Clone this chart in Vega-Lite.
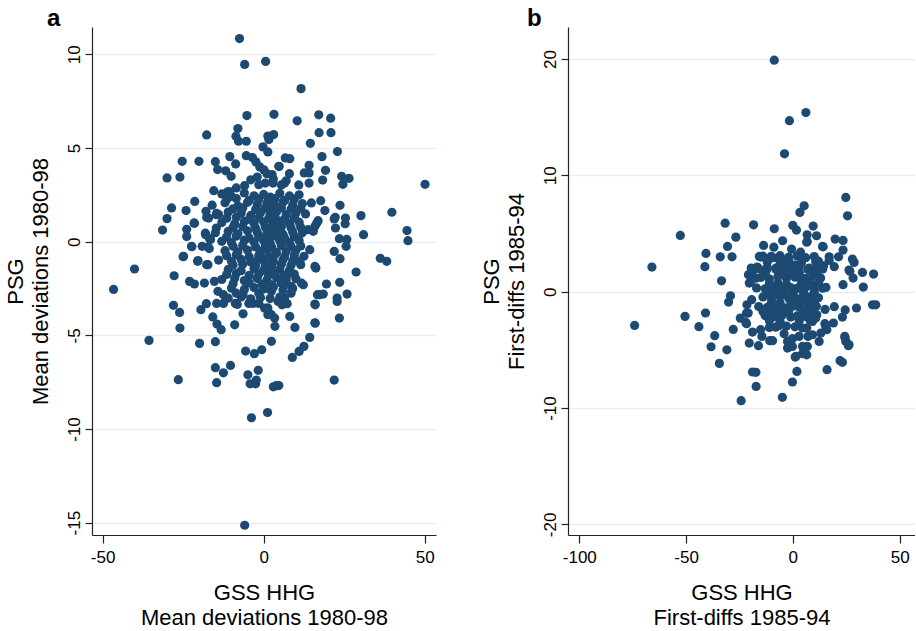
{
  "$schema": "https://vega.github.io/schema/vega-lite/v6.json",
  "background": "white",
  "padding": {"left": 3, "top": 7, "right": 0, "bottom": 0},
  "config": {
    "font": "Liberation Sans",
    "view": {"stroke": null},
    "axis": {
      "domainColor": "#222222", "tickColor": "#222222", "domainWidth": 1.2, "tickWidth": 1.2, "tickSize": 8,
      "labelColor": "#000000", "titleColor": "#000000", "labelFontSize": 17, "titleFontSize": 22,
      "titleFontWeight": "normal", "labelFont": "Liberation Sans", "titleFont": "Liberation Sans",
      "titleLineHeight": 25, "gridColor": "#e8eff2", "gridWidth": 1.5, "labelFlush": false, "labelOverlap": false,
      "labelExpr": "datum.value + ''"
    }
  },
  "datasets": {
    "a": [
      {"gss":-7.5,"psg":10.84},{"gss":-5.9,"psg":9.46},{"gss":0.6,"psg":9.62},{"gss":11.6,"psg":8.17},{"gss":-5.2,"psg":6.73},{"gss":3.2,"psg":6.8},{"gss":10.4,"psg":6.45},{"gss":17.1,"psg":6.77},{"gss":20.8,"psg":6.59},{"gss":-17.7,"psg":5.7},
      {"gss":-8,"psg":6.04},{"gss":-8.6,"psg":5.63},{"gss":-7.8,"psg":5.36},{"gss":-5.4,"psg":5.36},{"gss":1.3,"psg":5.64},{"gss":3.1,"psg":5.72},{"gss":-0.2,"psg":5.06},{"gss":1.3,"psg":4.79},{"gss":17.2,"psg":5.82},{"gss":20.9,"psg":5.82},
      {"gss":14.5,"psg":5.25},{"gss":22.9,"psg":4.81},{"gss":-25.3,"psg":4.29},{"gss":-20.1,"psg":4.29},{"gss":-30,"psg":3.4},{"gss":-26,"psg":3.45},{"gss":-15,"psg":4.27},{"gss":-10.5,"psg":4.54},{"gss":-8.7,"psg":4.15},{"gss":-14.3,"psg":3.85},
      {"gss":-11.8,"psg":3.78},{"gss":-10.1,"psg":3.49},{"gss":-5.4,"psg":4.59},{"gss":-3.5,"psg":4.49},{"gss":-2.4,"psg":4.26},{"gss":-1.2,"psg":3.99},{"gss":0.1,"psg":3.83},{"gss":4.8,"psg":4.01},{"gss":6.7,"psg":4.47},{"gss":8.1,"psg":4.43},
      {"gss":18.1,"psg":4.54},{"gss":14.1,"psg":4.08},{"gss":14.1,"psg":3.67},{"gss":8,"psg":3.63},{"gss":2.6,"psg":3.58},{"gss":1,"psg":3.63},{"gss":12.6,"psg":3.67},{"gss":19.2,"psg":3.81},{"gss":18.3,"psg":3.29},{"gss":24.2,"psg":3.49},
      {"gss":26.5,"psg":3.38},{"gss":24.6,"psg":3.06},{"gss":50.1,"psg":3.06},{"gss":14.1,"psg":3.13},{"gss":10.9,"psg":3.03},{"gss":2.9,"psg":3.13},{"gss":5.5,"psg":3.03},{"gss":6.5,"psg":3.13},{"gss":-1.5,"psg":3.04},{"gss":0.5,"psg":3.13},
      {"gss":-5.9,"psg":2.99},{"gss":-8.5,"psg":2.87},{"gss":-10.6,"psg":2.67},{"gss":-11.3,"psg":2.64},{"gss":-15.5,"psg":2.72},{"gss":-21.4,"psg":2.15},{"gss":-28.6,"psg":1.8},{"gss":-30,"psg":1.23},{"gss":-31.4,"psg":0.62},{"gss":-24.1,"psg":1.66},
      {"gss":-21.5,"psg":0.98},{"gss":-17.9,"psg":1.62},{"gss":-17.1,"psg":1.26},{"gss":-14.6,"psg":1.51},{"gss":-23.9,"psg":0.66},{"gss":-23.9,"psg":0.27},{"gss":-18.1,"psg":0.45},{"gss":-16.5,"psg":0.11},{"gss":-19.1,"psg":-0.25},{"gss":-16.9,"psg":-0.37},
      {"gss":-22.3,"psg":-0.27},{"gss":-25,"psg":-0.8},{"gss":-20.4,"psg":-1.01},{"gss":-17.7,"psg":-1.23},{"gss":-27.8,"psg":-1.82},{"gss":-40.1,"psg":-1.46},{"gss":-46.6,"psg":-2.55},{"gss":14.8,"psg":2.07},{"gss":17.7,"psg":2.19},{"gss":19,"psg":1.66},
      {"gss":23.7,"psg":1.94},{"gss":22.2,"psg":1.3},{"gss":25.4,"psg":1.26},{"gss":25.3,"psg":0.96},{"gss":30.2,"psg":1.39},{"gss":31,"psg":0.37},{"gss":39.8,"psg":1.57},{"gss":44.5,"psg":0.59},{"gss":44.8,"psg":0.05},{"gss":22.3,"psg":0.73},
      {"gss":23.5,"psg":0.16},{"gss":25.8,"psg":0.12},{"gss":25.6,"psg":-0.25},{"gss":21.9,"psg":-0.52},{"gss":23.7,"psg":-0.91},{"gss":28.7,"psg":-1.62},{"gss":36.2,"psg":-0.89},{"gss":38.2,"psg":-1.05},{"gss":16.5,"psg":1.0},{"gss":15.4,"psg":0.55},
      {"gss":14.3,"psg":-0.43},{"gss":12.5,"psg":-0.78},{"gss":16.2,"psg":-1.41},{"gss":19.5,"psg":-2.26},{"gss":23.6,"psg":-2.17},{"gss":17.4,"psg":-2.83},{"gss":18.5,"psg":-2.8},{"gss":22.8,"psg":-3.01},{"gss":25.9,"psg":-2.8},{"gss":12.3,"psg":-2.3},
      {"gss":-11.2,"psg":2.65},{"gss":-17.7,"psg":1.3},{"gss":-14.7,"psg":1.44},{"gss":-21.6,"psg":1.0},{"gss":-22.4,"psg":-0.25},{"gss":-18,"psg":0.37},{"gss":-16.8,"psg":0.16},{"gss":-14.7,"psg":0.73},{"gss":-17.3,"psg":-0.29},{"gss":-24.9,"psg":-0.78},
      {"gss":-20.5,"psg":-1.05},{"gss":-17.3,"psg":-1.23},{"gss":1.6,"psg":5.45},{"gss":4.7,"psg":4.02},{"gss":21.9,"psg":1.21},{"gss":16.9,"psg":1.12},{"gss":15.9,"psg":0.82},{"gss":13.8,"psg":0.64},{"gss":15.9,"psg":-1.32},{"gss":11.2,"psg":-1.05},
      {"gss":8.1,"psg":-1.68},{"gss":6,"psg":-1.94},
      {"gss":-28,"psg":-3.4},{"gss":-26.1,"psg":-3.78},{"gss":-26,"psg":-4.61},{"gss":-35.6,"psg":-5.27},{"gss":-19.5,"psg":-3.63},{"gss":-17.8,"psg":-3.31},{"gss":-14.6,"psg":-3.3},{"gss":-12.5,"psg":-3.3},{"gss":-8.8,"psg":-3.3},{"gss":-8.2,"psg":-3.35},
      {"gss":-4.6,"psg":-3.3},{"gss":-3.3,"psg":-3.3},{"gss":-1.5,"psg":-3.3},{"gss":-15.8,"psg":-4.02},{"gss":-14.5,"psg":-4.4},{"gss":-13.2,"psg":-4.7},{"gss":-9,"psg":-4.44},{"gss":-6.4,"psg":-3.85},{"gss":-19.9,"psg":-5.43},{"gss":-15,"psg":-5.34},
      {"gss":-5.6,"psg":-5.84},{"gss":-2.9,"psg":-5.98},{"gss":-0.6,"psg":-5.77},{"gss":-15,"psg":-6.73},{"gss":-12.5,"psg":-7.0},{"gss":-10.3,"psg":-6.61},{"gss":-26.5,"psg":-7.37},{"gss":-14.6,"psg":-7.53},{"gss":-4.9,"psg":-7.11},{"gss":-4.2,"psg":-7.59},
      {"gss":-2.3,"psg":-7.39},{"gss":-2.5,"psg":-7.59},{"gss":-1.7,"psg":-6.87},{"gss":3,"psg":-7.75},{"gss":4.7,"psg":-7.68},{"gss":-3.8,"psg":-9.4},{"gss":1.2,"psg":-9.12},{"gss":-5.9,"psg":-15.14},{"gss":1.3,"psg":-3.54},{"gss":1.3,"psg":-3.9},
      {"gss":3.4,"psg":-4.08},{"gss":3.5,"psg":-4.52},{"gss":5.7,"psg":-3.37},{"gss":7.3,"psg":-3.31},{"gss":8.1,"psg":-3.99},{"gss":9.7,"psg":-4.58},{"gss":16,"psg":-3.37},{"gss":16,"psg":-4.35},{"gss":23.5,"psg":-4.08},{"gss":22.8,"psg":-3.19},
      {"gss":2.4,"psg":-5.32},{"gss":14.3,"psg":-5.11},{"gss":12.5,"psg":-5.59},{"gss":11,"psg":-5.86},{"gss":8.9,"psg":-6.18},{"gss":21.9,"psg":-7.39},{"gss":-23,"psg":-2.12},{"gss":-21.5,"psg":-2.26},{"gss":-18.4,"psg":-2.21},{"gss":-15.3,"psg":-2.12},
      {"gss":-14.2,"psg":-2.65},{"gss":-12.5,"psg":-2.83},{"gss":-6.4,"psg":-2.83},{"gss":16.7,"psg":-2.83},{"gss":15.9,"psg":-3.33},{"gss":15.9,"psg":-4.33},{"gss":3.9,"psg":-7.69},{"gss":0.3,"psg":-2.3},{"gss":2.4,"psg":-2.65},{"gss":4.5,"psg":-3.19},
      {"gss":6.5,"psg":-3.01},{"gss":8.6,"psg":-2.39},{"gss":11.7,"psg":-2.21},{"gss":0.3,"psg":-3.55},{"gss":2.4,"psg":-3.9},{"gss":6.5,"psg":-2.21},
      {"gss":-13,"psg":2.55},{"gss":-10,"psg":2.42},{"gss":-6,"psg":2.6},{"gss":-3,"psg":2.45},{"gss":0,"psg":2.52},{"gss":2,"psg":2.38},{"gss":5,"psg":2.58},{"gss":8,"psg":2.44},{"gss":11,"psg":2.5},
      {"gss":-16,"psg":1.95},{"gss":-12,"psg":2.08},{"gss":-8,"psg":1.9},{"gss":-5,"psg":2.1},{"gss":-2,"psg":1.98},{"gss":1,"psg":2.05},{"gss":3.5,"psg":1.92},{"gss":6,"psg":2.12},{"gss":9,"psg":1.96},{"gss":12,"psg":2.03},
      {"gss":-14,"psg":1.45},{"gss":-11,"psg":1.58},{"gss":-7,"psg":1.52},{"gss":-4,"psg":1.4},{"gss":-1,"psg":1.55},{"gss":2,"psg":1.47},{"gss":4,"psg":1.6},{"gss":7,"psg":1.44},{"gss":10,"psg":1.53},{"gss":13,"psg":1.48},
      {"gss":-13,"psg":1.02},{"gss":-9,"psg":0.95},{"gss":-6,"psg":1.08},{"gss":-3,"psg":0.97},{"gss":0,"psg":1.05},{"gss":3,"psg":0.92},{"gss":5,"psg":1.1},{"gss":8,"psg":0.98},{"gss":11,"psg":1.04},
      {"gss":-15,"psg":0.48},{"gss":-11,"psg":0.55},{"gss":-8,"psg":0.42},{"gss":-5,"psg":0.58},{"gss":-2,"psg":0.5},{"gss":1,"psg":0.45},{"gss":4,"psg":0.56},{"gss":6,"psg":0.4},{"gss":9,"psg":0.52},{"gss":12,"psg":0.47},
      {"gss":-13,"psg":0.02},{"gss":-10,"psg":-0.05},{"gss":-6,"psg":0.08},{"gss":-3,"psg":-0.02},{"gss":0,"psg":0.05},{"gss":2,"psg":-0.08},{"gss":5,"psg":0.03},{"gss":8,"psg":-0.04},{"gss":11,"psg":0.06},
      {"gss":-12,"psg":-0.48},{"gss":-8,"psg":-0.55},{"gss":-5,"psg":-0.45},{"gss":-1,"psg":-0.52},{"gss":1,"psg":-0.42},{"gss":4,"psg":-0.58},{"gss":7,"psg":-0.5},{"gss":10,"psg":-0.46},
      {"gss":-14,"psg":-0.98},{"gss":-10,"psg":-1.05},{"gss":-7,"psg":-0.95},{"gss":-4,"psg":-1.08},{"gss":-2,"psg":-1.0},{"gss":0,"psg":-0.93},{"gss":3,"psg":-1.06},{"gss":6,"psg":-0.97},{"gss":9,"psg":-1.03},
      {"gss":-11,"psg":-1.48},{"gss":-7,"psg":-1.55},{"gss":-3,"psg":-1.45},{"gss":0,"psg":-1.52},{"gss":2,"psg":-1.58},{"gss":5,"psg":-1.47},{"gss":8,"psg":-1.53},
      {"gss":-13,"psg":-2.02},{"gss":-9,"psg":-1.95},{"gss":-6,"psg":-2.08},{"gss":-2,"psg":-1.97},{"gss":1,"psg":-2.05},{"gss":4,"psg":-1.93},{"gss":7,"psg":-2.04},{"gss":10,"psg":-1.98},
      {"gss":-10,"psg":-2.48},{"gss":-6,"psg":-2.55},{"gss":-3,"psg":-2.45},{"gss":0,"psg":-2.52},{"gss":3,"psg":-2.42},{"gss":6,"psg":-2.58},{"gss":9,"psg":-2.5},
      {"gss":-11,"psg":-3.02},{"gss":-7,"psg":-2.95},{"gss":-4,"psg":-3.05},{"gss":-1,"psg":-2.98},{"gss":2,"psg":-3.04},{"gss":5,"psg":-2.96},
      {"gss":-4,"psg":3.3},{"gss":-2,"psg":3.45},{"gss":3,"psg":3.35},{"gss":7,"psg":3.25},
      {"gss":-11.5,"psg":2.25},{"gss":-8.5,"psg":2.3},{"gss":-4.5,"psg":2.2},{"gss":-1.5,"psg":2.28},{"gss":1.5,"psg":2.22},{"gss":3.5,"psg":2.3},{"gss":6.5,"psg":2.2},{"gss":9.5,"psg":2.27},
      {"gss":-9.5,"psg":1.75},{"gss":-6.5,"psg":1.8},{"gss":-2.5,"psg":1.72},{"gss":0.5,"psg":1.78},{"gss":2.5,"psg":1.7},{"gss":5.5,"psg":1.8},{"gss":8.5,"psg":1.74},{"gss":11.5,"psg":1.77},
      {"gss":-11.5,"psg":1.25},{"gss":-8.5,"psg":1.3},{"gss":-4.5,"psg":1.2},{"gss":-1.5,"psg":1.28},{"gss":1.5,"psg":1.22},{"gss":3.5,"psg":1.3},{"gss":6.5,"psg":1.2},{"gss":9.5,"psg":1.27},
      {"gss":-9.5,"psg":0.75},{"gss":-6.5,"psg":0.8},{"gss":-2.5,"psg":0.72},{"gss":0.5,"psg":0.78},{"gss":2.5,"psg":0.7},{"gss":5.5,"psg":0.8},{"gss":8.5,"psg":0.74},{"gss":11.5,"psg":0.77},
      {"gss":-11.5,"psg":0.25},{"gss":-8.5,"psg":0.3},{"gss":-4.5,"psg":0.2},{"gss":-1.5,"psg":0.28},{"gss":1.5,"psg":0.22},{"gss":3.5,"psg":0.3},{"gss":6.5,"psg":0.2},{"gss":9.5,"psg":0.27},
      {"gss":-9.5,"psg":-0.25},{"gss":-6.5,"psg":-0.2},{"gss":-2.5,"psg":-0.28},{"gss":0.5,"psg":-0.22},{"gss":2.5,"psg":-0.3},{"gss":5.5,"psg":-0.2},{"gss":8.5,"psg":-0.26},{"gss":11.5,"psg":-0.23},
      {"gss":-11.5,"psg":-0.75},{"gss":-8.5,"psg":-0.7},{"gss":-4.5,"psg":-0.8},{"gss":-1.5,"psg":-0.72},{"gss":1.5,"psg":-0.78},{"gss":3.5,"psg":-0.7},{"gss":6.5,"psg":-0.8},{"gss":9.5,"psg":-0.73},
      {"gss":-9.5,"psg":-1.25},{"gss":-6.5,"psg":-1.2},{"gss":-2.5,"psg":-1.28},{"gss":0.5,"psg":-1.22},{"gss":2.5,"psg":-1.3},{"gss":5.5,"psg":-1.2},{"gss":8.5,"psg":-1.26},{"gss":11.5,"psg":-1.23},
      {"gss":-11.5,"psg":-1.75},{"gss":-8.5,"psg":-1.7},{"gss":-4.5,"psg":-1.8},{"gss":-1.5,"psg":-1.72},{"gss":1.5,"psg":-1.78},{"gss":3.5,"psg":-1.7},{"gss":6.5,"psg":-1.8},{"gss":9.5,"psg":-1.73},
      {"gss":-9.5,"psg":-2.25},{"gss":-4.5,"psg":-2.2},{"gss":-0.5,"psg":-2.28},{"gss":2.5,"psg":-2.3},{"gss":5.5,"psg":-2.22},{"gss":8.5,"psg":-2.75},{"gss":-8.5,"psg":-2.75},{"gss":-1.5,"psg":-2.75}
    ],
    "b": [
      {"gss":-8.7,"psg":19.9},{"gss":-1.6,"psg":14.7},{"gss":6.1,"psg":15.4},{"gss":-3.9,"psg":11.85},{"gss":24.8,"psg":8.1},{"gss":25.6,"psg":6.52},{"gss":5.3,"psg":7.38},{"gss":3.3,"psg":6.81},{"gss":-31.7,"psg":5.89},{"gss":-18.4,"psg":5.75},
      {"gss":-8.7,"psg":5.41},{"gss":0,"psg":5.7},{"gss":1.7,"psg":5.3},{"gss":9.5,"psg":5.64},{"gss":-52.7,"psg":4.84},{"gss":-26.7,"psg":4.69},{"gss":-66,"psg":2.12},{"gss":-40.7,"psg":3.29},{"gss":-41.2,"psg":2.15},{"gss":-34,"psg":3.0},
      {"gss":-28.5,"psg":3.0},{"gss":-30.6,"psg":3.89},{"gss":-33.4,"psg":0.94},{"gss":-13.7,"psg":3.98},{"gss":-8.9,"psg":3.83},{"gss":-4.8,"psg":4.38},{"gss":-0.6,"psg":3.66},{"gss":3.6,"psg":3.4},{"gss":6.7,"psg":4.89},{"gss":11.1,"psg":4.81},
      {"gss":6.7,"psg":4.32},{"gss":14.2,"psg":3.86},{"gss":19.8,"psg":4.52},{"gss":23.5,"psg":4.41},{"gss":23.5,"psg":3.58},{"gss":17,"psg":3.0},{"gss":21.4,"psg":3.0},{"gss":-15,"psg":2.98},{"gss":-10.1,"psg":3.04},{"gss":-7.2,"psg":2.89},
      {"gss":27.9,"psg":2.8},{"gss":28.7,"psg":2.52},{"gss":26.3,"psg":1.86},{"gss":28.2,"psg":1.17},{"gss":32.6,"psg":1.66},{"gss":37.8,"psg":1.52},{"gss":33,"psg":0.4},{"gss":23.5,"psg":0.6},{"gss":19.4,"psg":2.15},{"gss":14.4,"psg":2.23},
      {"gss":17,"psg":2.69},{"gss":37.3,"psg":-1.13},{"gss":38.8,"psg":-1.13},{"gss":29.8,"psg":-1.4},{"gss":24.5,"psg":-1.57},{"gss":19.4,"psg":-1.29},{"gss":15.1,"psg":-1.52},{"gss":-19.5,"psg":2.03},{"gss":-16.7,"psg":2.12},{"gss":-20.8,"psg":1.46},
      {"gss":-20.4,"psg":0.74},{"gss":-12.3,"psg":1.86},{"gss":-7.9,"psg":2.03},{"gss":-6.1,"psg":2.32},{"gss":-2.5,"psg":2.03},{"gss":-0.2,"psg":2.03},{"gss":-1.7,"psg":2.58},{"gss":1.4,"psg":2.29},{"gss":7.6,"psg":2.03},{"gss":10.7,"psg":2.58},
      {"gss":12.3,"psg":2.15},{"gss":8.8,"psg":1.72},{"gss":6.1,"psg":1.14},{"gss":9.3,"psg":0.57},{"gss":15.5,"psg":0.37},{"gss":-29.2,"psg":-0.35},{"gss":-30.1,"psg":-0.89},{"gss":-50.5,"psg":-2.12},{"gss":-40.9,"psg":-1.83},
      {"gss":-74.1,"psg":-2.9},{"gss":-44,"psg":-3.01},{"gss":-36.6,"psg":-3.78},{"gss":-38.3,"psg":-4.73},{"gss":-34.4,"psg":-6.16},{"gss":-30.9,"psg":-4.99},{"gss":-27.9,"psg":-3.24},{"gss":-24.6,"psg":-2.27},{"gss":-21.7,"psg":-1.84},{"gss":-21.7,"psg":-2.75},
      {"gss":-18.9,"psg":-3.47},{"gss":-20.4,"psg":-4.41},{"gss":-16.1,"psg":-4.64},{"gss":-14.5,"psg":-3.84},{"gss":-10.8,"psg":-4.21},{"gss":-9.5,"psg":-4.21},{"gss":-11,"psg":-3.07},{"gss":-6.4,"psg":-2.9},{"gss":-18.9,"psg":-6.9},{"gss":-17.2,"psg":-8.14},
      {"gss":-24.2,"psg":-9.37},{"gss":-4.9,"psg":-9.08},{"gss":-0.2,"psg":-7.76},{"gss":1.9,"psg":-6.85},{"gss":1.1,"psg":-5.62},{"gss":16,"psg":-6.7},{"gss":22.1,"psg":-5.93},{"gss":23.2,"psg":-6.07},{"gss":-2.5,"psg":-4.84},{"gss":-0.2,"psg":-4.7},
      {"gss":2.9,"psg":-3.84},{"gss":4.5,"psg":-4.7},{"gss":6.5,"psg":-5.42},{"gss":7.1,"psg":-3.84},{"gss":9.2,"psg":-3.7},{"gss":12.3,"psg":-4.27},{"gss":-0.2,"psg":-4.04},{"gss":-4.1,"psg":-3.61},{"gss":6.5,"psg":-3.12},{"gss":4.5,"psg":-3.12},
      {"gss":9.2,"psg":-2.55},{"gss":11.2,"psg":-1.98},{"gss":6.9,"psg":-2.12},{"gss":15,"psg":-2.75},{"gss":15.9,"psg":-3.27},{"gss":19,"psg":-2.69},{"gss":24.5,"psg":-3.98},{"gss":24.8,"psg":-4.27},{"gss":26,"psg":-4.64},
      {"gss":-19.3,"psg":-0.69},{"gss":-21.5,"psg":-1.12},{"gss":-22,"psg":-2.64},{"gss":-20.9,"psg":-1.84},{"gss":-18.9,"psg":1.75},{"gss":-19.7,"psg":0.89},{"gss":-17.3,"psg":1.17},{"gss":-15.7,"psg":3.03},
      {"gss":6.5,"psg":4.26},{"gss":13.9,"psg":3.89},{"gss":26.7,"psg":1.75},{"gss":23.2,"psg":-2.18},{"gss":15.4,"psg":-2.98},{"gss":24.3,"psg":-3.84},{"gss":26.3,"psg":-4.55},{"gss":1.4,"psg":-5.56},{"gss":-17.3,"psg":-6.93},{"gss":-15.1,"psg":-3.26},
      {"gss":-2.5,"psg":-4.27},{"gss":10.7,"psg":-2.26},{"gss":13.1,"psg":-3.55},{"gss":6.8,"psg":-4.7},{"gss":4.5,"psg":-5.33},{"gss":-1.4,"psg":-4.7},
      {"gss":-14,"psg":3.05},{"gss":-10,"psg":2.9},{"gss":-6,"psg":3.1},{"gss":-2,"psg":2.95},{"gss":2,"psg":3.08},{"gss":6,"psg":2.92},{"gss":10,"psg":3.02},
      {"gss":-16,"psg":1.98},{"gss":-12,"psg":2.1},{"gss":-8,"psg":1.92},{"gss":-4,"psg":2.05},{"gss":0,"psg":1.95},{"gss":3,"psg":2.12},{"gss":7,"psg":1.9},{"gss":11,"psg":2.02},{"gss":14,"psg":1.96},
      {"gss":-15,"psg":1.22},{"gss":-11,"psg":1.1},{"gss":-7,"psg":1.3},{"gss":-3,"psg":1.15},{"gss":1,"psg":1.25},{"gss":5,"psg":1.12},{"gss":9,"psg":1.28},{"gss":13,"psg":1.18},
      {"gss":-17,"psg":0.32},{"gss":-13,"psg":0.25},{"gss":-9,"psg":0.4},{"gss":-5,"psg":0.22},{"gss":-1,"psg":0.35},{"gss":2,"psg":0.28},{"gss":6,"psg":0.38},{"gss":10,"psg":0.2},{"gss":14,"psg":0.3},
      {"gss":-14,"psg":-0.45},{"gss":-10,"psg":-0.58},{"gss":-6,"psg":-0.42},{"gss":-2,"psg":-0.55},{"gss":1,"psg":-0.48},{"gss":4,"psg":-0.6},{"gss":8,"psg":-0.44},{"gss":12,"psg":-0.52},
      {"gss":-16,"psg":-1.28},{"gss":-12,"psg":-1.35},{"gss":-8,"psg":-1.22},{"gss":-4,"psg":-1.38},{"gss":0,"psg":-1.25},{"gss":3,"psg":-1.32},{"gss":7,"psg":-1.4},{"gss":11,"psg":-1.26},
      {"gss":-13,"psg":-2.05},{"gss":-9,"psg":-2.15},{"gss":-5,"psg":-2.0},{"gss":-1,"psg":-2.18},{"gss":2,"psg":-2.08},{"gss":6,"psg":-2.12},
      {"gss":-8,"psg":-3.05},{"gss":-3,"psg":-2.95},{"gss":1,"psg":-3.02},
      {"gss":-12,"psg":2.55},{"gss":-4,"psg":2.6},{"gss":4,"psg":2.5},{"gss":12,"psg":2.62},
      {"gss":-13,"psg":1.6},{"gss":-5,"psg":1.65},{"gss":-1,"psg":1.55},{"gss":3,"psg":1.62},{"gss":11,"psg":1.58},
      {"gss":-11,"psg":0.7},{"gss":-7,"psg":0.75},{"gss":-3,"psg":0.65},{"gss":4,"psg":0.72},{"gss":8,"psg":0.68},{"gss":12,"psg":0.75},
      {"gss":-12,"psg":-0.1},{"gss":-8,"psg":-0.05},{"gss":-4,"psg":-0.15},{"gss":0,"psg":-0.08},{"gss":5,"psg":-0.12},{"gss":10,"psg":-0.05},
      {"gss":-10,"psg":-0.9},{"gss":-6,"psg":-0.95},{"gss":-1,"psg":-0.88},{"gss":2,"psg":-0.92},{"gss":6,"psg":-0.85},{"gss":10,"psg":-0.95},
      {"gss":-14,"psg":-1.7},{"gss":-10,"psg":-1.75},{"gss":-6,"psg":-1.65},{"gss":-2,"psg":-1.72},{"gss":5,"psg":-1.7},{"gss":9,"psg":-1.68},
      {"gss":-11,"psg":-2.5},{"gss":-6,"psg":-2.55},{"gss":3,"psg":-2.5},{"gss":8,"psg":-2.45}
    ]
  },
  "spacing": 132,
  "bounds": "flush",
  "hconcat": [
    {
      "width": 344,
      "height": 508,
      "title": {"text": "a", "anchor": "start", "frame": "group", "dx": -45, "fontSize": 24, "fontWeight": "bold", "offset": -4, "color": "#000000", "font": "Liberation Sans"},
      "data": {"name": "a"},
      "mark": {"type": "circle", "size": 85, "opacity": 1, "color": "#1d4a72"},
      "encoding": {
        "x": {"field": "gss", "type": "quantitative", "scale": {"domain": [-53.3, 53.5], "nice": false, "zero": false},
          "axis": {"values": [-50, 0, 50], "grid": false, "title": ["GSS HHG", "Mean deviations 1980-98"], "labelPadding": 6, "titlePadding": 17}},
        "y": {"field": "psg", "type": "quantitative", "scale": {"domain": [-15.66, 11.46], "nice": false, "zero": false},
          "axis": {"values": [-15, -10, -5, 0, 5, 10], "grid": true, "labelAngle": -90, "labelAlign": "center", "labelBaseline": "bottom", "labelPadding": 2, "tickSize": 7, "title": ["PSG", "Mean deviations 1980-98"], "titlePadding": 13}}
      }
    },
    {
      "width": 347,
      "height": 508,
      "title": {"text": "b", "anchor": "start", "frame": "group", "dx": -41, "fontSize": 24, "fontWeight": "bold", "offset": -4, "color": "#000000", "font": "Liberation Sans"},
      "data": {"name": "b"},
      "mark": {"type": "circle", "size": 85, "opacity": 1, "color": "#1d4a72"},
      "encoding": {
        "x": {"field": "gss", "type": "quantitative", "scale": {"domain": [-105.3, 57.2], "nice": false, "zero": false},
          "axis": {"values": [-100, -50, 0, 50], "grid": false, "title": ["GSS HHG", "First-diffs 1985-94"], "labelPadding": 6, "titlePadding": 17}},
        "y": {"field": "psg", "type": "quantitative", "scale": {"domain": [-20.91, 22.75], "nice": false, "zero": false},
          "axis": {"values": [-20, -10, 0, 10, 20], "grid": true, "labelAngle": -90, "labelAlign": "center", "labelBaseline": "bottom", "labelPadding": 2, "tickSize": 7, "title": ["PSG", "First-diffs 1985-94"], "titlePadding": 13}}
      }
    }
  ]
}
